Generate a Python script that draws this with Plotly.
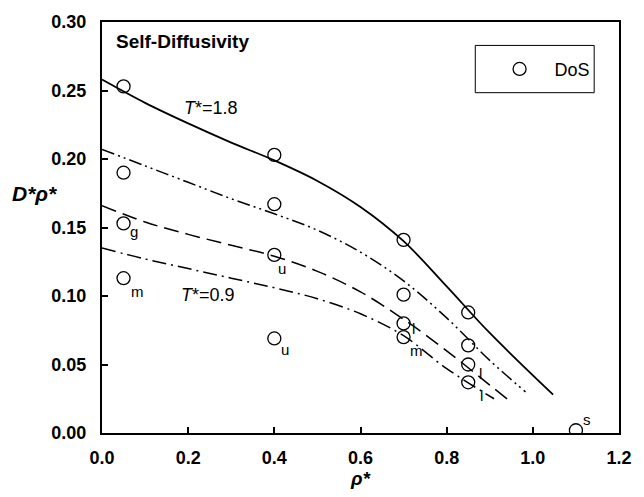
import plotly.graph_objects as go

# DoS self-diffusivity points
dos_rho = [0.05, 0.05, 0.05, 0.05, 0.40, 0.40, 0.40, 0.40,
           0.70, 0.70, 0.70, 0.70, 0.85, 0.85, 0.85, 0.85, 1.10]
dos_d = [0.253, 0.190, 0.153, 0.113, 0.203, 0.167, 0.130, 0.069,
         0.141, 0.101, 0.080, 0.070, 0.088, 0.064, 0.050, 0.037, 0.002]

# phase tags next to some points
tag_rho = [0.05, 0.05, 0.40, 0.40, 0.70, 0.70, 0.85, 0.85, 1.10]
tag_d = [0.153, 0.113, 0.130, 0.069, 0.080, 0.070, 0.050, 0.037, 0.002]
tag_text = ["g", "m", "u", "u", "l", "m", "l", "l", "s"]

# reference curves
t18_rho = [0.0, 0.1, 0.2, 0.3, 0.4, 0.5, 0.6, 0.7, 0.8, 0.9, 1.047]
t18_d = [0.258, 0.241, 0.226, 0.212, 0.199, 0.184, 0.165, 0.140, 0.107, 0.073, 0.028]

t2_rho = [0.0, 0.1, 0.2, 0.3, 0.4, 0.5, 0.6, 0.7, 0.8, 0.9, 0.983]
t2_d = [0.207, 0.195, 0.183, 0.171, 0.160, 0.148, 0.132, 0.111, 0.084, 0.053, 0.030]

t3_rho = [0.0, 0.1, 0.2, 0.3, 0.4, 0.5, 0.6, 0.7, 0.8, 0.9, 0.944]
t3_d = [0.166, 0.154, 0.145, 0.137, 0.129, 0.118, 0.103, 0.083, 0.060, 0.035, 0.024]

t09_rho = [0.0, 0.1, 0.2, 0.3, 0.4, 0.5, 0.6, 0.7, 0.8, 0.91]
t09_d = [0.135, 0.127, 0.120, 0.113, 0.106, 0.098, 0.087, 0.071, 0.047, 0.025]

FONT = "Liberation Sans, Arial, sans-serif"

fig = go.Figure()

curves = [
    (t18_rho, t18_d, "solid", 1.8),
    (t2_rho, t2_d, "13px,4px,2px,4px,2px,4px", 1.5),
    (t3_rho, t3_d, "15px,7px", 1.5),
    (t09_rho, t09_d, "14px,5px,2px,5px", 1.5),
]
for xs, ys, dash, w in curves:
    fig.add_trace(go.Scatter(
        x=xs, y=ys, mode="lines", showlegend=False, hoverinfo="skip",
        line=dict(color="black", width=w, dash=dash, shape="spline", smoothing=1.0),
    ))

fig.add_trace(go.Scatter(
    x=dos_rho, y=dos_d, mode="markers", name="DoS",
    marker=dict(symbol="circle-open", size=13, color="black", line=dict(width=1.3)),
))

# pixel offsets of each tag from its point
tag_offsets = [(10, -8), (14, -13), (8, -14), (11, -11), (10, -5),
               (13, -13), (12, -9), (13, -13), (11, 11)]
for x, y, t, (dx, dy) in zip(tag_rho, tag_d, tag_text, tag_offsets):
    fig.add_annotation(
        x=x, y=y, text=t, showarrow=False, xanchor="center", yanchor="middle",
        xshift=dx, yshift=dy,
        font=dict(family=FONT, size=15, color="black"),
    )

fig.add_annotation(x=0.185, y=0.237, text="<i>T</i>*=1.8", showarrow=False,
                   xanchor="left", font=dict(family=FONT, size=18, color="black"))
fig.add_annotation(x=0.178, y=0.101, text="<i>T</i>*=0.9", showarrow=False,
                   xanchor="left", font=dict(family=FONT, size=18, color="black"))
fig.add_annotation(xref="paper", yref="paper", x=0.024, y=0.953, text="<b>Self-Diffusivity</b>",
                   showarrow=False, xanchor="left", yanchor="middle",
                   font=dict(family=FONT, size=19, color="black"))
fig.add_annotation(xref="paper", yref="paper", x=-0.178, y=0.583, text="<b><i>D*ρ*</i></b>",
                   showarrow=False, xanchor="left", yanchor="middle",
                   font=dict(family=FONT, size=21, color="black"))

# legend frame
fig.add_shape(type="rect", xref="paper", yref="paper",
              x0=0.722, x1=0.952, y0=0.828, y1=0.943,
              line=dict(color="black", width=1), fillcolor="white", layer="below")

axis_common = dict(
    showgrid=False, zeroline=False, showline=True, linecolor="black", linewidth=2,
    mirror=True, ticks="inside", ticklen=6, tickwidth=1.5, tickcolor="black",
    tickfont=dict(family=FONT, size=18, color="black", weight="bold"),
)
fig.update_xaxes(range=[0, 1.2], tickvals=[0, 0.2, 0.4, 0.6, 0.8, 1.0, 1.2],
                 tickformat=".1f", ticklabelstandoff=7,
                 title=dict(text="<b><i>ρ*</i></b>", standoff=4,
                            font=dict(family=FONT, size=19, color="black")),
                 **axis_common)
fig.update_yaxes(range=[0, 0.30], tickvals=[0, 0.05, 0.10, 0.15, 0.20, 0.25, 0.30],
                 tickformat=".2f", ticklabelstandoff=10, **axis_common)

fig.update_layout(
    width=644, height=497,
    margin=dict(l=102, r=17, t=20, b=59),
    plot_bgcolor="white", paper_bgcolor="white",
    legend=dict(x=0.74, y=0.885, xanchor="left", yanchor="middle",
                borderwidth=0, bgcolor="rgba(0,0,0,0)",
                itemwidth=60, font=dict(family=FONT, size=18, color="black")),
)

# drop the browser's default 8px body margin so the figure fills the window
fig.write_html("out.html", config={"displayModeBar": False},
               post_script="document.body.style.margin = '0';")
